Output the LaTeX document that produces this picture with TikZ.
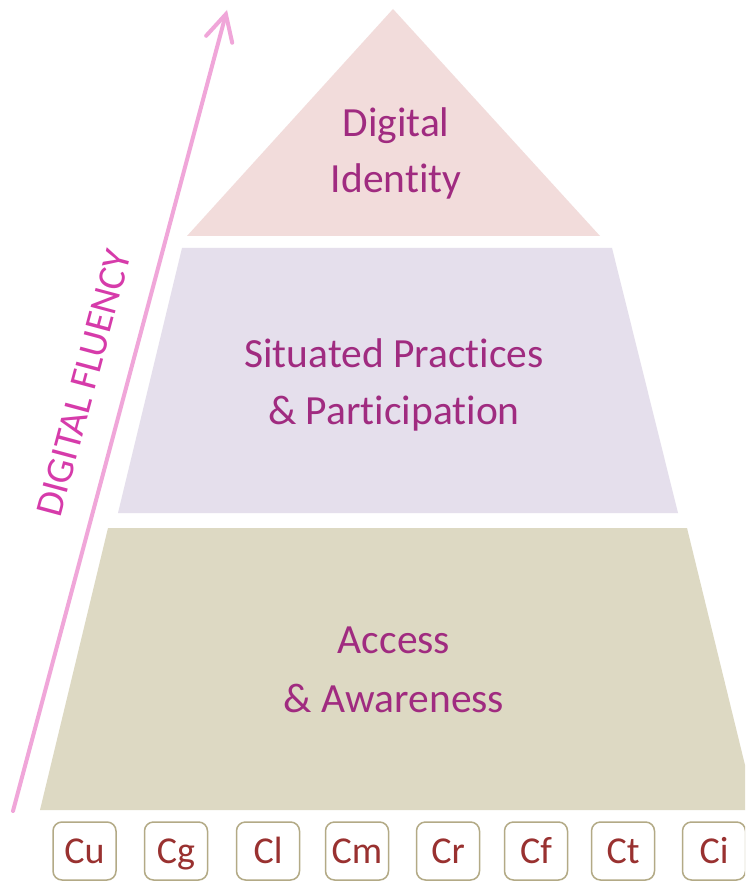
\documentclass[tikz,border=0pt]{standalone}
\usepackage{fontspec}
\setmainfont{Carlito}[Ligatures=NoCommon]
\usetikzlibrary{arrows.meta}

\definecolor{tierTop}{HTML}{F2DCDB}
\definecolor{tierMid}{HTML}{E5DFEC}
\definecolor{tierLow}{HTML}{DDD9C3}
\definecolor{tierText}{HTML}{A02B80}
\definecolor{fluency}{HTML}{D63BAA}
\definecolor{fluencyArrow}{HTML}{F0A6D9}
\definecolor{chipEdge}{HTML}{B3AA86}
\definecolor{chipText}{HTML}{993130}

% keep "t" and "i" as separate glyphs
\newcommand\tisep{t\kern0pt i}

\tikzset{
  tierlabel/.style={anchor=base, inner sep=0pt, text=tierText,
    font=\fontsize{41.5}{50}\selectfont},
  chip/.style={draw=chipEdge, line width=1.5pt, fill=white,
    rounded corners=9pt, minimum width=63pt, minimum height=58pt,
    inner sep=0pt, text height=24pt, text depth=0pt,
    text=chipText, font=\fontsize{38}{40}\selectfont},
  growth/.style={draw=fluencyArrow, line width=4pt, line cap=round,
    -{Straight Barb[length=26pt, width=27pt, line cap=round]}},
}

\begin{document}
\begin{tikzpicture}[x=1pt, y=-1pt]
  \clip (0,0) rectangle (745,882);
  \fill[white] (0,0) rectangle (745,882);

  % pyramid tiers
  \fill[tierTop] (393,9) -- (600,236) -- (187,236) -- cycle;
  \fill[tierMid] (182,248) -- (612,248) -- (678,513) -- (118,513) -- cycle;
  \fill[tierLow] (108,528) -- (687,528) -- (756,810) -- (40,810) -- cycle;

  % tier labels
  \node[tierlabel] (id1) at (396,137) {Digital};
  \node[tierlabel] (id2) at (396,193) {Iden\tisep ty};
  \node[tierlabel] (sp1) at (394,367) {Situated Practices};
  \node[tierlabel] (sp2) at (394,424) {\& Par\tisep cipa\tisep on};
  \node[tierlabel] (aa1) at (394,653) {Access};
  \node[tierlabel] (aa2) at (394,712) {\& Awareness};

  % fluency axis
  \coordinate (axisFoot) at (13,811);
  \coordinate (axisHead) at (227,10);
  \draw[growth] (axisFoot) -- (axisHead);
  \node[rotate=75, text=fluency, inner sep=0pt,
        font=\fontsize{39}{42}\selectfont] (fl) at (84,383) {DIGITAL FLUENCY};

  % competence chips
  \node[chip] (cu) at (84.5,851) {Cu};
  \node[chip] (cg) at (176,851) {Cg};
  \node[chip] (cl) at (268,851) {Cl};
  \node[chip] (cm) at (357,851) {Cm};
  \node[chip] (cr) at (448,851) {Cr};
  \node[chip] (cf) at (536,851) {Cf};
  \node[chip] (ct) at (623,851) {Ct};
  \node[chip] (ci) at (714,851) {Ci};
\end{tikzpicture}
\end{document}
